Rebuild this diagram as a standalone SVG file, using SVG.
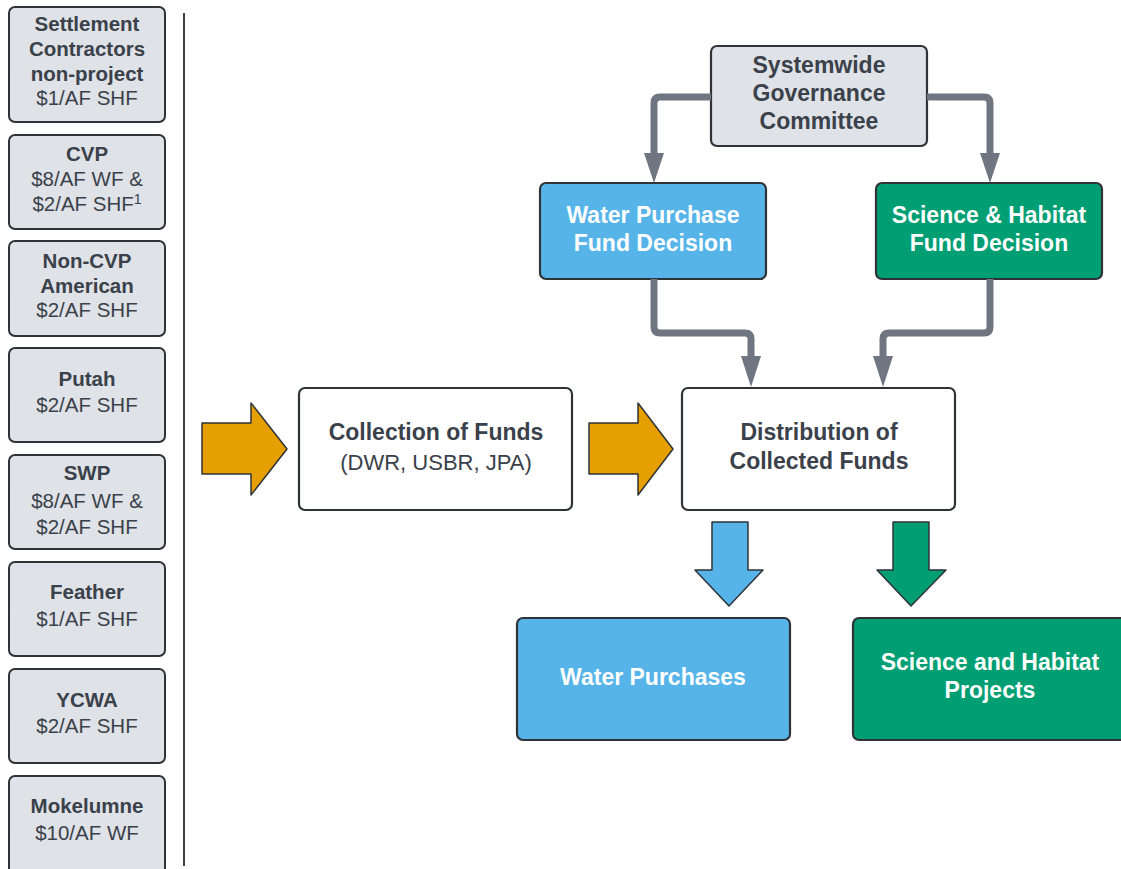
<svg xmlns="http://www.w3.org/2000/svg" width="1121" height="869" viewBox="0 0 1121 869">
<style>
text{font-family:"Liberation Sans",Arial,sans-serif;text-anchor:middle;fill:#3a414a}
.b{font-weight:bold}
.src rect{fill:#dfe2e7;stroke:#2f3338;stroke-width:2}
.st{font-size:20.5px}
.w{fill:#ffffff;font-weight:bold;font-size:23px}
.n{font-size:23px}
.conn{fill:none;stroke:#6f7682;stroke-width:7;stroke-linejoin:round}
.ah{fill:#6f7682}
.box{stroke:#2f3338;stroke-width:2.2}
</style>
<rect width="1121" height="869" fill="#ffffff"/>

<g id="sources" class="st">
<g id="n-settlement" class="src"><rect x="9" y="7" width="156" height="115" rx="6"/>
<text x="87" y="31" class="b st">Settlement</text><text x="87" y="56" class="b st">Contractors</text><text x="87" y="81" class="b st">non-project</text><text x="87" y="105" class="st">$1/AF SHF</text></g>
<g id="n-cvp" class="src"><rect x="9" y="135" width="156" height="94" rx="6"/>
<text x="87" y="161" class="b st">CVP</text><text x="87" y="186" class="st">$8/AF WF &amp;</text><text x="87" y="211" class="st">$2/AF SHF<tspan font-size="14" dy="-7">1</tspan></text></g>
<g id="n-noncvp" class="src"><rect x="9" y="241" width="156" height="95" rx="6"/>
<text x="87" y="268" class="b st">Non-CVP</text><text x="87" y="293" class="b st">American</text><text x="87" y="317" class="st">$2/AF SHF</text></g>
<g id="n-putah" class="src"><rect x="9" y="348" width="156" height="94" rx="6"/>
<text x="87" y="386" class="b st">Putah</text><text x="87" y="412" class="st">$2/AF SHF</text></g>
<g id="n-swp" class="src"><rect x="9" y="455" width="156" height="94" rx="6"/>
<text x="87" y="480" class="b st">SWP</text><text x="87" y="508" class="st">$8/AF WF &amp;</text><text x="87" y="534" class="st">$2/AF SHF</text></g>
<g id="n-feather" class="src"><rect x="9" y="562" width="156" height="94" rx="6"/>
<text x="87" y="599" class="b st">Feather</text><text x="87" y="626" class="st">$1/AF SHF</text></g>
<g id="n-ycwa" class="src"><rect x="9" y="669" width="156" height="94" rx="6"/>
<text x="87" y="707" class="b st">YCWA</text><text x="87" y="733" class="st">$2/AF SHF</text></g>
<g id="n-mokelumne" class="src"><rect x="9" y="776" width="156" height="98" rx="6"/>
<text x="87" y="813" class="b st">Mokelumne</text><text x="87" y="840" class="st">$10/AF WF</text></g>
</g>

<line x1="184" y1="13" x2="184" y2="866" stroke="#3a414a" stroke-width="2"/>

<g id="n-governance"><rect class="box" x="711" y="46" width="216" height="100" rx="6" fill="#dfe2e7"/>
<text x="819" y="73" class="b n">Systemwide</text><text x="819" y="101" class="b n">Governance</text><text x="819" y="129" class="b n">Committee</text></g>

<g id="n-wp-decision"><rect class="box" x="540" y="183" width="226" height="96" rx="6" fill="#56b4e9"/>
<text x="653" y="223" class="w">Water Purchase</text><text x="653" y="251" class="w">Fund Decision</text></g>

<g id="n-sh-decision"><rect class="box" x="876" y="183" width="226" height="96" rx="6" fill="#009e73"/>
<text x="989" y="223" class="w">Science &amp; Habitat</text><text x="989" y="251" class="w">Fund Decision</text></g>

<g id="n-collection"><rect class="box" x="299" y="388" width="273" height="122" rx="6" fill="#ffffff"/>
<text x="436" y="440" class="b n">Collection of Funds</text><text x="436" y="470" style="font-size:22px">(DWR, USBR, JPA)</text></g>

<g id="n-distribution"><rect class="box" x="682" y="388" width="273" height="122" rx="6" fill="#ffffff"/>
<text x="819" y="440" class="b n">Distribution of</text><text x="819" y="469" class="b n">Collected Funds</text></g>

<g id="n-water-purchases"><rect class="box" x="517" y="618" width="273" height="122" rx="6" fill="#56b4e9"/>
<text x="653" y="685" class="w">Water Purchases</text></g>

<g id="n-sh-projects"><rect class="box" x="853" y="618" width="280" height="122" rx="6" fill="#009e73"/>
<text x="990" y="670" class="w">Science and Habitat</text><text x="990" y="698" class="w">Projects</text></g>

<g id="connectors">
<path class="conn" d="M711 97 H660 Q654 97 654 103 V154"/>
<polygon class="ah" points="644,153 664,153 654,183"/>
<path class="conn" d="M927 97 H984 Q990 97 990 103 V154"/>
<polygon class="ah" points="980,153 1000,153 990,183"/>
<path class="conn" d="M654 279 V327 Q654 333 660 333 H745 Q751 333 751 339 V357"/>
<polygon class="ah" points="741,356 761,356 751,387"/>
<path class="conn" d="M990 279 V327 Q990 333 984 333 H889 Q883 333 883 339 V357"/>
<polygon class="ah" points="873,356 893,356 883,387"/>
<polygon points="202,423 251,423 251,403 287,449 251,495 251,474 202,474" fill="#e69f00" stroke="#2f3338" stroke-width="1.5" stroke-linejoin="round"/>
<polygon points="589,423 638,423 638,403 673,449 638,495 638,474 589,474" fill="#e69f00" stroke="#2f3338" stroke-width="1.5" stroke-linejoin="round"/>
<polygon points="712,522 748,522 748,570 763,570 729,606 695,570 712,570" fill="#56b4e9" stroke="#2f3338" stroke-width="1.5" stroke-linejoin="round"/>
<polygon points="893,522 929,522 929,570 946,570 911,606 877,570 893,570" fill="#009e73" stroke="#2f3338" stroke-width="1.5" stroke-linejoin="round"/>
</g>
</svg>
